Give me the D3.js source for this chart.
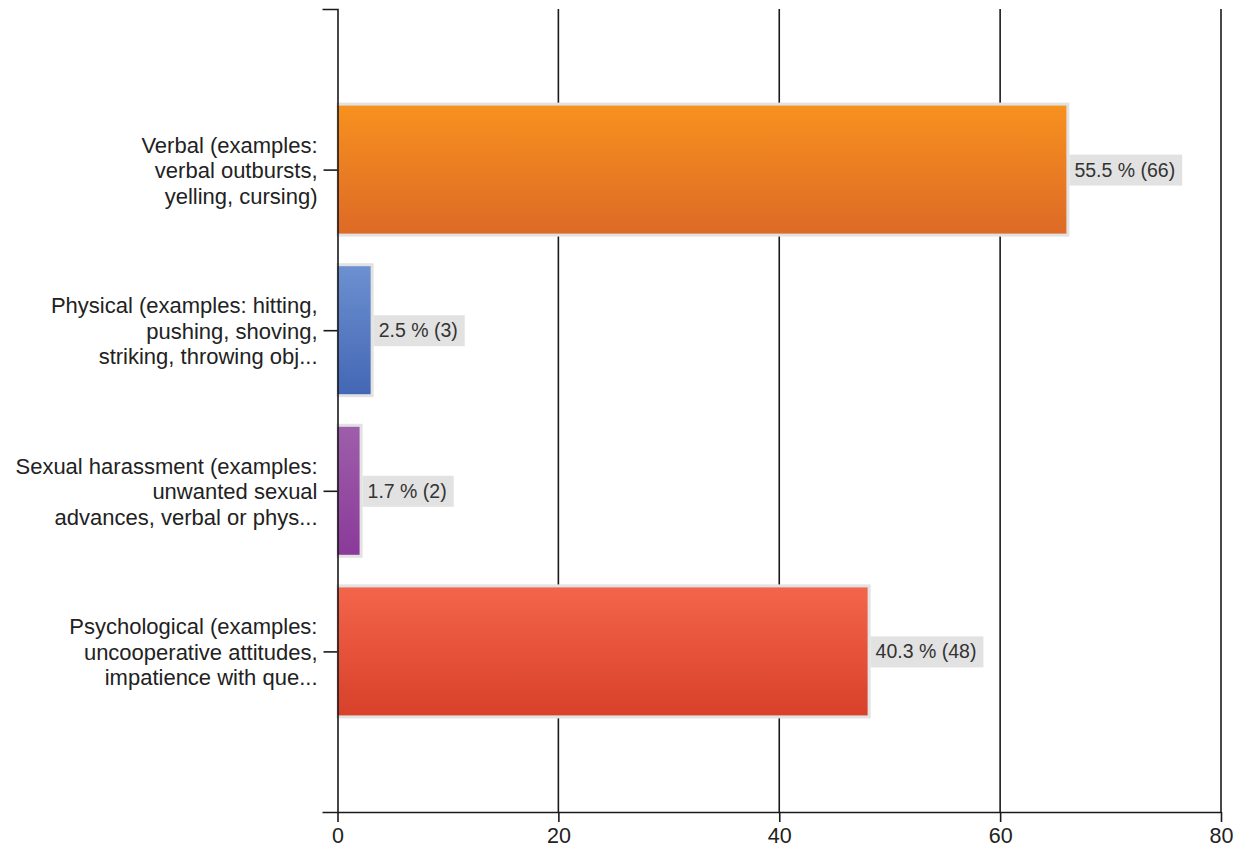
<!DOCTYPE html>
<html>
<head>
<meta charset="utf-8">
<script src="https://cdn.jsdelivr.net/npm/d3@7"></script>
<style>
  html, body { margin: 0; padding: 0; background: #fff; }
  svg { display: block; font-family: "Liberation Sans", Arial, sans-serif; }
</style>
</head>
<body>
<svg id="chart" width="1251" height="851"></svg>
<script>
// ---- data ----
const categories = [
  "Verbal (examples:\nverbal outbursts,\nyelling, cursing)",
  "Physical (examples: hitting,\npushing, shoving,\nstriking, throwing obj...",
  "Sexual harassment (examples:\nunwanted sexual\nadvances, verbal or phys...",
  "Psychological (examples:\nuncooperative attitudes,\nimpatience with que..."
];
const counts = [66, 3, 2, 48];
const percents = [55.5, 2.5, 1.7, 40.3];
const xTicks = [0, 20, 40, 60, 80];
const topColors = ["#f7911f", "#6c90d0", "#9e5eaa", "#f3654a"];
const bottomColors = ["#dd6a26", "#4467b5", "#8a3a99", "#d8402a"];

// ---- layout ----
const svg = d3.select("#chart");
const x0 = 337.5, x1 = 1221, yTop = 9, yBot = 812;

const x = d3.scaleLinear().domain([0, 80]).range([x0, x1]);
const y = d3.scalePoint().domain(categories).range([yTop, yBot]).padding(1);
const barH = 128;

// gradients
const defs = svg.append("defs");
categories.forEach((c, i) => {
  const g = defs.append("linearGradient").attr("id", "g" + i)
    .attr("x1", 0).attr("y1", 0).attr("x2", 0).attr("y2", 1);
  g.append("stop").attr("offset", "0%").attr("stop-color", topColors[i]);
  g.append("stop").attr("offset", "100%").attr("stop-color", bottomColors[i]);
});

// gridlines
svg.append("g").selectAll("line").data(xTicks.slice(1)).join("line")
  .attr("x1", d => x(d)).attr("x2", d => x(d))
  .attr("y1", yTop).attr("y2", yBot)
  .attr("stroke", "#1a1a1a").attr("stroke-width", 1.6);

// bars
const bars = svg.append("g");
categories.forEach((c, i) => {
  const yc = y(c);
  bars.append("rect")
    .attr("x", x(0) - 1).attr("y", yc - barH / 2 - 3)
    .attr("width", x(counts[i]) - x(0) + 4).attr("height", barH + 6)
    .attr("fill", "#e2e2e2");
  bars.append("rect")
    .attr("x", x(0)).attr("y", yc - barH / 2)
    .attr("width", x(counts[i]) - x(0)).attr("height", barH)
    .attr("fill", "url(#g" + i + ")");
});

// value labels
const lab = svg.append("g");
categories.forEach((c, i) => {
  const yc = y(c);
  const bx = x(counts[i]) + 3;
  const t = lab.append("text")
    .attr("x", bx + 5).attr("y", yc + 7)
    .attr("font-size", 19.5).attr("fill", "#333")
    .text(percents[i].toFixed(1) + " % (" + counts[i] + ")");
  const w = t.node().getComputedTextLength();
  lab.insert("rect", "text")
    .attr("x", bx).attr("y", yc - 15)
    .attr("width", w + 12).attr("height", 31)
    .attr("fill", "#e2e2e2");
});

// x axis
const xAxis = svg.append("g").attr("transform", `translate(0,${yBot})`)
  .call(d3.axisBottom(x).tickValues(xTicks).tickSizeInner(10).tickSizeOuter(0).tickPadding(6).tickFormat(d3.format("d")));
xAxis.select(".domain").attr("stroke", "#1a1a1a").attr("stroke-width", 1.6);
xAxis.selectAll(".tick line").attr("stroke", "#1a1a1a").attr("stroke-width", 1.6);
xAxis.selectAll(".tick text").attr("font-size", 21.5).attr("fill", "#222")
  .attr("font-family", "Liberation Sans, Arial, sans-serif");

// y axis
const yAxis = svg.append("g").attr("transform", `translate(${x0},0)`)
  .call(d3.axisLeft(y).tickSizeInner(14).tickSizeOuter(15).tickPadding(6).tickFormat(""));
yAxis.select(".domain").attr("stroke", "#1a1a1a").attr("stroke-width", 1.6);
yAxis.selectAll(".tick line").attr("stroke", "#1a1a1a").attr("stroke-width", 1.6);
yAxis.selectAll(".tick").each(function(d) {
  const lines = d.split("\n");
  const t = d3.select(this).append("text")
    .attr("x", -20).attr("text-anchor", "end")
    .attr("font-size", 22).attr("fill", "#222")
    .attr("font-family", "Liberation Sans, Arial, sans-serif");
  lines.forEach((ln, k) => {
    t.append("tspan").attr("x", -20).attr("y", (k - 1) * 25.5 + 8).text(ln);
  });
});
</script>
</body>
</html>
